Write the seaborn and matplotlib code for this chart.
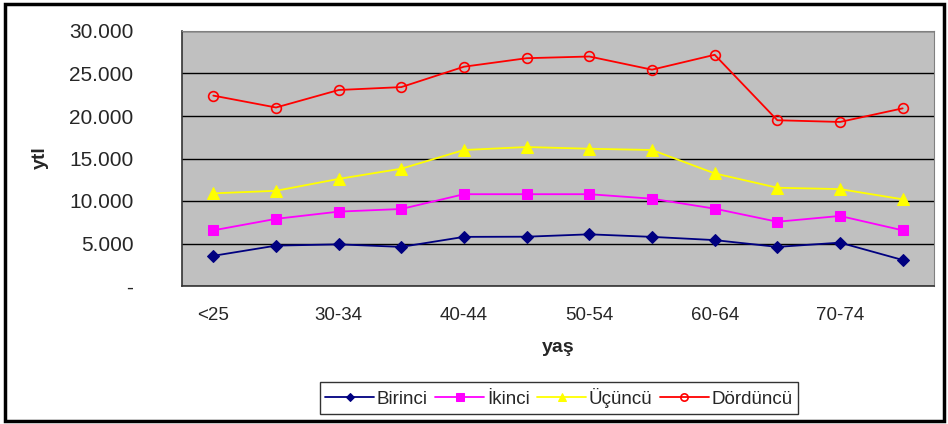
import matplotlib
matplotlib.use("Agg")
import matplotlib.pyplot as plt
from matplotlib.patches import Rectangle
from matplotlib.ticker import FixedLocator, FuncFormatter
import seaborn as sns
import pandas as pd

categories = ["<25", "25-29", "30-34", "35-39", "40-44", "45-49",
              "50-54", "55-59", "60-64", "65-69", "70-74", "75+"]
birinci = [3550, 4750, 4900, 4600, 5780, 5800, 6080, 5780, 5400, 4600, 5100, 3060]
ikinci = [6550, 7900, 8750, 9060, 10800, 10800, 10800, 10270, 9100, 7560, 8240, 6550]
ucuncu = [10900, 11200, 12600, 13800, 16000, 16350, 16150, 16000, 13250, 11560, 11400, 10200]
dorduncu = [22400, 21000, 23060, 23400, 25800, 26800, 27000, 25450, 27200, 19500, 19300, 20900]
series_names = ["Birinci", "İkinci", "Üçüncü", "Dördüncü"]
yticks = [0, 5000, 10000, 15000, 20000, 25000, 30000]

sns.set_style("white")
plt.rcParams["font.family"] = ["Liberation Sans", "DejaVu Sans"]

fig = plt.figure(figsize=(9.48, 4.24), dpi=100)
ax = fig.add_axes([182/948, 1-286/424, (934-182)/948, (286-31)/424])
ax.set_facecolor("#C0C0C0")

styles = [
    dict(color="#000080", marker="D", markersize=6, mfc="#000080", mec="#000080"),
    dict(color="#FF00FF", marker="s", markersize=7, mfc="#FF00FF", mec="#FF00FF"),
    dict(color="#FFFF00", marker="^", markersize=8, mfc="#FFFF00", mec="#FFFF00"),
    dict(color="#FF0000", marker="o", markersize=7, mfc="none", mec="#FF0000", mew=1.2),
]
values = [birinci, ikinci, ucuncu, dorduncu]
for name, vals, st in zip(series_names, values, styles):
    df = pd.DataFrame({"yas": categories, "ytl": vals})
    sns.lineplot(data=df, x="yas", y="ytl", sort=False, ax=ax, label=name,
                 linewidth=1.3, **st)

ax.set_xlim(-0.5, len(categories) - 0.5)
ax.set_ylim(0, 30000)
ax.set_yticks(yticks)
ax.yaxis.set_major_formatter(FuncFormatter(
    lambda v, p: "-" if v == 0 else f"{int(v):,}".replace(",", ".")))
ax.yaxis.grid(True, color="black", linewidth=1)
ax.set_axisbelow(True)

ax.set_xticks(range(0, len(categories), 2))
ax.set_xticklabels(categories[::2])
ax.xaxis.set_minor_locator(FixedLocator([i - 0.5 for i in range(len(categories) + 1)]))
ax.tick_params(axis="x", which="major", length=0, pad=15, labelsize=13.5)
ax.tick_params(axis="x", which="minor", length=5, width=1, direction="out", color="#333333")
ax.tick_params(axis="y", which="major", length=5, width=1, direction="out",
               color="#333333", labelsize=15, pad=30)

for s in ["top", "right"]:
    ax.spines[s].set_color("#808080")
for s in ["left", "bottom"]:
    ax.spines[s].set_color("#333333")
    ax.spines[s].set_linewidth(1.2)

ax.set_xlabel("")
ax.set_ylabel("")
fig.text(40/948, 1-158/424, "ytl", rotation=90, fontsize=14, fontweight="bold",
         ha="center", va="center")
fig.text(558/948, 1-348/424, "yaş", fontsize=14, fontweight="bold",
         ha="center", va="center")

if ax.legend_:
    ax.legend_.remove()
handles, labels = ax.get_legend_handles_labels()
leg = fig.legend(handles, labels, loc="center", bbox_to_anchor=(559/948, 1-398/424),
                 ncol=4, frameon=True, fancybox=False, fontsize=13.5,
                 handlelength=2.6, handletextpad=0.15, columnspacing=0.4,
                 borderpad=0.3, edgecolor="black", markerscale=0.75)
leg.get_frame().set_linewidth(1.0)

fig.patches.append(Rectangle((5/948, 3/424), 939/948, 417/424, transform=fig.transFigure,
                             fill=False, edgecolor="black", linewidth=2.5))

fig.savefig("out.png", dpi=100, facecolor="white")
